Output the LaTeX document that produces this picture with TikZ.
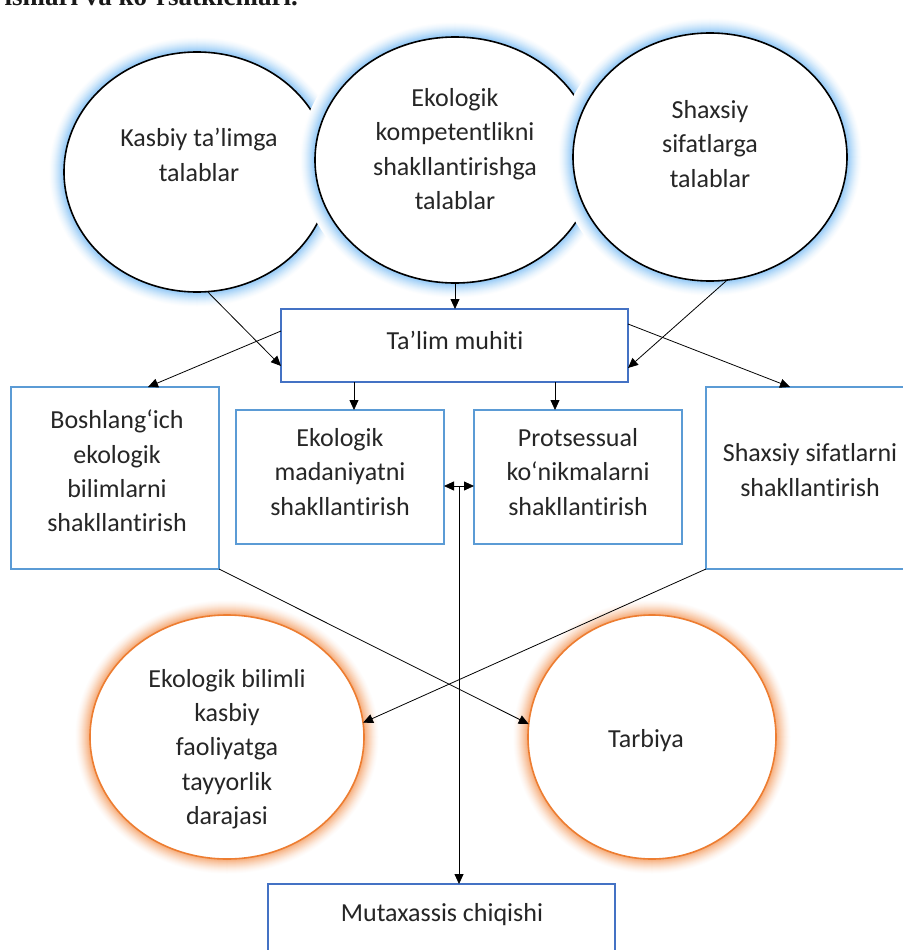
\documentclass[tikz,border=0pt]{standalone}
\usepackage{fontspec}
\setmainfont{Carlito}[Ligatures=NoCommon]
\newfontfamily\capfont{Liberation Serif}
\usetikzlibrary{arrows.meta,shapes.geometric,calc}
\definecolor{glowblue}{RGB}{135,195,245}
\definecolor{gloworange}{RGB}{245,165,110}
\definecolor{ringorange}{RGB}{237,125,49}
\definecolor{boxblue}{RGB}{91,155,213}
\definecolor{darkblue}{RGB}{68,114,196}
\definecolor{txt}{RGB}{38,38,38}
\newcommand\myglow[5]{%
  \foreach \k in {15,...,1}{%
    \pgfmathtruncatemacro\gp{100*(1-\k/16)^1.5}%
    \fill[#5!\gp!white] (#1,#2) ellipse [x radius=#3pt+\k pt, y radius=#4pt+\k pt];
  }}
\begin{document}
\begin{tikzpicture}[x=1pt,y=-1pt,
  txtnode/.style={align=center, text=txt, font=\fontsize{26}{34.3}\selectfont, inner sep=0pt},
  ell/.style={ellipse, draw=#1, line width=1.6pt, fill=white, inner sep=0pt, outer sep=0pt},
  bx/.style={rectangle, draw=#1, line width=1.8pt, fill=white, inner sep=0pt, outer sep=0pt},
  arr/.style={-{Triangle[length=10pt,width=9pt]}, line width=0.8pt, black},
  darr/.style={{Triangle[length=10pt,width=9pt]}-{Triangle[length=10pt,width=9pt]}, line width=0.8pt, black}]
\useasboundingbox (0,0) rectangle (902,950);

% caption fragment (cut off at top, as in the reference)
\node[anchor=base east, inner sep=0pt, text=black!90, font=\capfont\bfseries\fontsize{27}{30}\selectfont] (cap) at (298,6) {ishlari va ko‘rsatkichlari.};

% top circles
\myglow{197}{172}{133}{120}{glowblue}
\node[ell=black, minimum width=266pt, minimum height=240pt] (c1) at (197,172) {};
\myglow{455}{160}{140}{123}{glowblue}
\node[ell=black, minimum width=280pt, minimum height=246pt] (c2) at (455,160) {};
\myglow{710}{157}{137}{124}{glowblue}
\node[ell=black, minimum width=274pt, minimum height=248pt] (c3) at (710,157) {};

\node[txtnode] (t1) at (199,155) {Kasbiy ta’limga\\talablar};
\node[txtnode] (t2) at (455,149) {Ekologik\\kompetentlikni\\shakllantirishga\\talablar};
\node[txtnode] (t3) at (710,144) {Shaxsiy\\sifatlarga\\talablar};

% boxes
\node[bx=darkblue, minimum width=347pt, minimum height=73pt] (tal) at (454.5,345.5) {};
\node[txtnode] (ttal) at (455,340) {Ta’lim muhiti};
\node[bx=boxblue, minimum width=208pt, minimum height=182pt] (bL) at (115,478) {};
\node[txtnode] (tbL) at (117,471) {Boshlang‘ich\\ekologik\\bilimlarni\\shakllantirish};
\node[bx=boxblue, minimum width=208pt, minimum height=134pt] (bML) at (340,477) {};
\node[txtnode] (tbML) at (340,472) {Ekologik\\madaniyatni\\shakllantirish};
\node[bx=boxblue, minimum width=208pt, minimum height=134pt] (bMR) at (578,477) {};
\node[txtnode] (tbMR) at (578,472) {Protsessual\\ko‘nikmalarni\\shakllantirish};
\node[bx=boxblue, minimum width=208pt, minimum height=182pt] (bR) at (810,478) {};
\node[txtnode] (tbR) at (810,470) {Shaxsiy sifatlarni\\shakllantirish};

% bottom circles
\myglow{227}{737}{137}{122}{gloworange}
\node[ell=ringorange, minimum width=274pt, minimum height=244pt] (bl) at (227,737) {};
\myglow{652}{737}{124}{122}{gloworange}
\node[ell=ringorange, minimum width=248pt, minimum height=244pt] (br) at (652,737) {};
\node[txtnode] (tbl) at (227,749) {Ekologik bilimli\\kasbiy\\faoliyatga\\tayyorlik\\darajasi};
\node[txtnode] (tbr) at (646,741) {Tarbiya};

\node[bx=darkblue, minimum width=347pt, minimum height=73pt] (mut) at (441.5,920.5) {};
\node[txtnode] (tmut) at (442,915) {Mutaxassis chiqishi};

% connectors
\draw[arr] (c2.south) -- (c2.south |- tal.north);
\draw[arr] (c1.-85) -- ([yshift=-20.5pt]tal.west);
\draw[arr] (c3.-82) -- ([yshift=-22.5pt]tal.east);
\draw[arr] ([yshift=14.5pt]tal.west) -- ([xshift=137pt]bL.north west);
\draw[arr] ([yshift=21.5pt]tal.east) -- ([xshift=84pt]bR.north west);
\coordinate (a1) at ([xshift=14pt]bML.north);
\coordinate (a2) at ([xshift=-23pt]bMR.north);
\draw[arr] (a1 |- tal.south) -- (a1);
\draw[arr] (a2 |- tal.south) -- (a2);
\coordinate (mid) at (459,486);
\draw[darr] (mid -| bML.east) -- (mid -| bMR.west);
\draw[arr] (mid) -- (mid |- mut.north);
\draw[arr] (bL.south east) -- (br.174);
\draw[arr] (bR.south west) -- (bl.6);
\end{tikzpicture}
\end{document}
